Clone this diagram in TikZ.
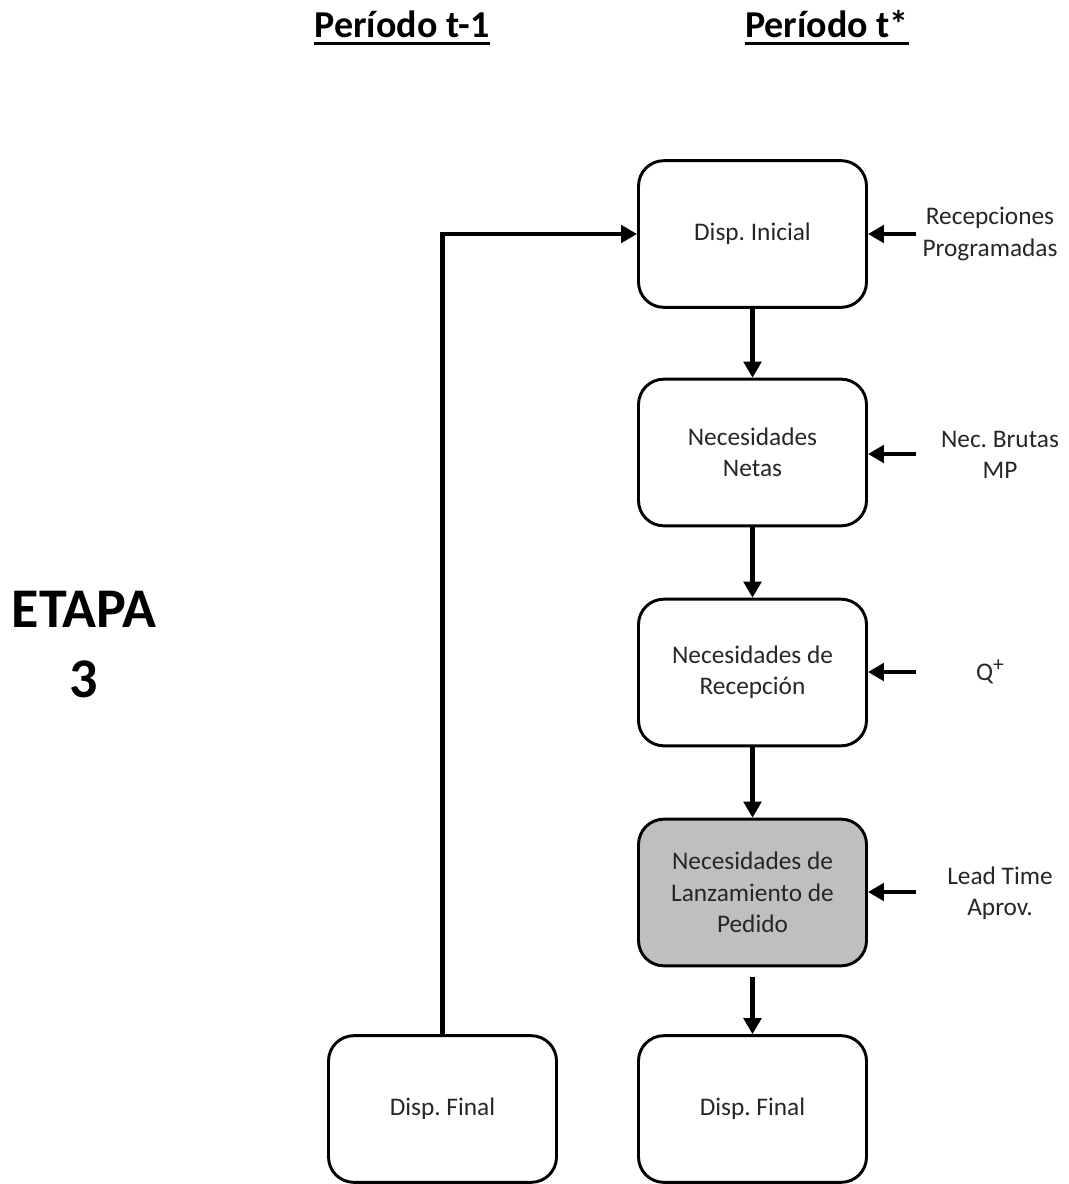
\documentclass[tikz,border=0pt]{standalone}
\usepackage{fontspec}
\setmainfont{Carlito}
\usetikzlibrary{arrows.meta}
\definecolor{boxgrey}{HTML}{BFBFBF}
\definecolor{txt}{HTML}{262626}
\frenchspacing
\begin{document}
\begin{tikzpicture}[x=0.75pt,y=-0.75pt,
  stagebox/.style={draw=black, line width=2.2pt, rounded corners=19pt,
    minimum width=171pt, minimum height=110pt, align=center, text=txt,
    font=\fontsize{19}{23.5}\selectfont},
  sidelabel/.style={align=center, text=txt, font=\fontsize{19}{23.5}\selectfont},
  header/.style={inner sep=0pt, anchor=base, font=\bfseries\fontsize{28.5}{34}\selectfont},
  conn/.style={line width=3.6pt, -{Triangle[length=12pt,width=13pt]}},
  feed/.style={line width=3.6pt}]
  \useasboundingbox (0,0) rectangle (1069,1184);

  % column headings
  \node[header] (h1) at (402,38) {Período t-1};
  \node[header] (h2) at (827,38) {Período t*};
  \draw[line width=2.3pt] ([yshift=-4pt]h1.base west) -- ([yshift=-4pt]h1.base east);
  \draw[line width=2.3pt] ([yshift=-4pt]h2.base west) -- ([yshift=-4pt]h2.base east);

  % stage label
  \node[align=center, font=\bfseries\fontsize{42}{52.5}\selectfont] (etapa) at (84,645) {ETAPA\\3};

  % period t* chain
  \node[stagebox] (b1) at (752.5,234) {Disp. Inicial};
  \node[stagebox] (b2) at (752.5,452.5) {Necesidades\\Netas};
  \node[stagebox] (b3) at (752.5,672.5) {Necesidades de\\Recepción};
  \node[stagebox, fill=boxgrey] (b4) at (752.5,892.5) {Necesidades de\\Lanzamiento de\\Pedido};
  \node[stagebox] (b5) at (752.5,1109) {Disp. Final};

  % period t-1
  \node[stagebox] (lf) at (442.5,1109) {Disp. Final};

  % external inputs
  \node[sidelabel] (r1) at (990,234) {Recepciones\\Programadas};
  \node[sidelabel] (r2) at (1000,455) {Nec. Brutas\\MP};
  \node[sidelabel] (r3) at (990,672) {Q\raisebox{0.75ex}{\fontsize{16}{16}\selectfont +}};
  \node[sidelabel] (r4) at (1000,893) {Lead Time\\Aprov.};

  \coordinate (i1) at (916,234);
  \coordinate (i2) at (916,454);
  \coordinate (i3) at (916,672);
  \coordinate (i4) at (916,892);

  % vertical flow
  \draw[conn] (b1.south) -- (b2.north);
  \draw[conn] (b2.south) -- (b3.north);
  \draw[conn] (b3.south) -- (b4.north);
  \draw[conn] ([yshift=-7.5pt]b4.south) -- (b5.north);

  % side inputs
  \draw[conn] (i1) -- (i1 -| b1.east);
  \draw[conn] (i2) -- (i2 -| b2.east);
  \draw[conn] (i3) -- (i3 -| b3.east);
  \draw[conn] (i4) -- (i4 -| b4.east);

  % carry-over from previous period
  \draw[conn] (lf.north) |- (b1.west);
\end{tikzpicture}
\end{document}
